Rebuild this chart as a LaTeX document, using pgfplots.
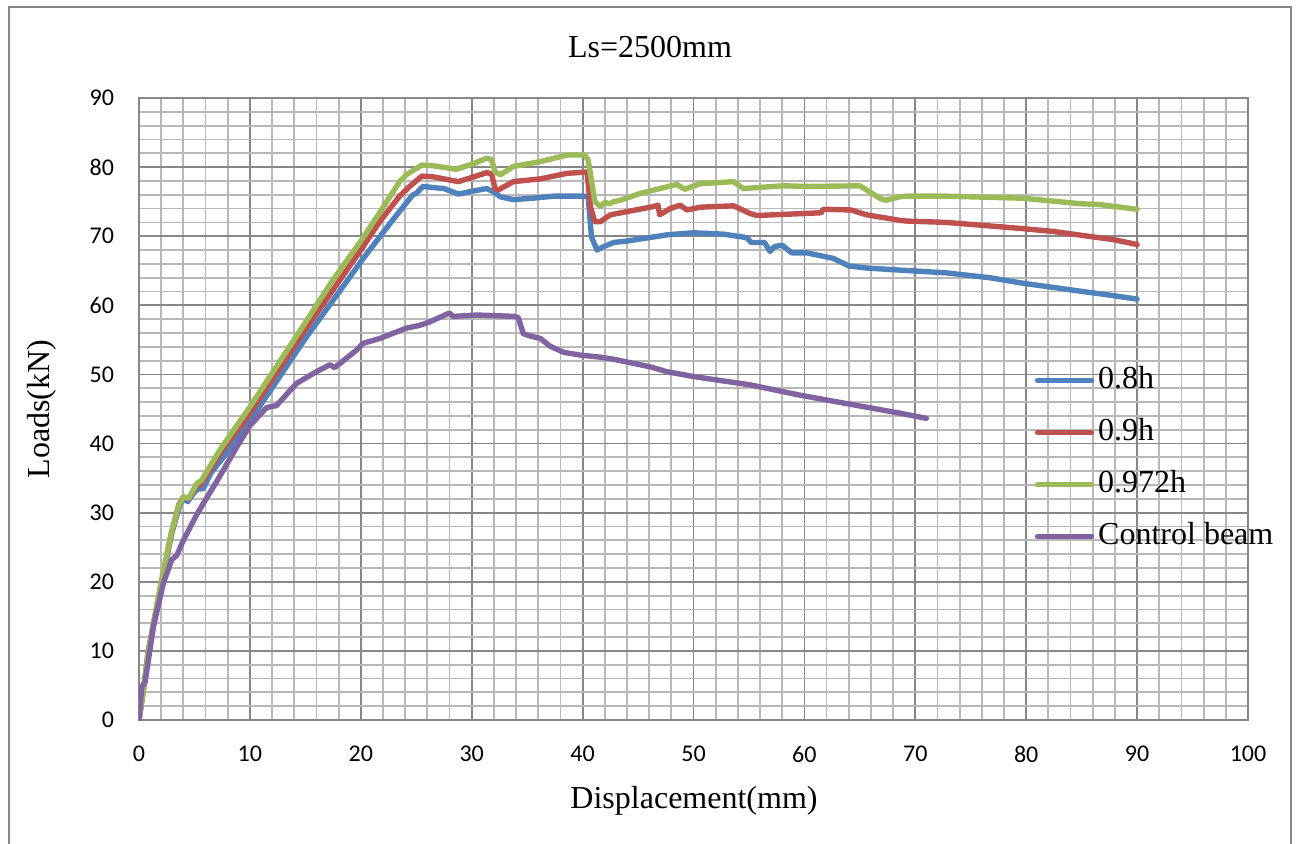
\documentclass[border=0pt]{standalone}
\usepackage{fontspec}
\setmainfont{Liberation Serif}
\newfontfamily\tickfont{Carlito}
\usepackage{pgfplots}
\pgfplotsset{compat=1.18}

\definecolor{cBlue}{HTML}{4F81BD}
\definecolor{cRed}{HTML}{C0504D}
\definecolor{cGreen}{HTML}{9BBB59}
\definecolor{cPurple}{HTML}{8064A2}
\definecolor{gridMajor}{HTML}{878787}
\definecolor{gridMinor}{HTML}{B8B8B8}

\begin{document}
\begin{tikzpicture}
\useasboundingbox (-69.5pt,-61.5pt) rectangle (580.5pt,360pt);
\draw[gridMajor, line width=0.8pt] (-65pt,-70pt) rectangle (576pt,356.5pt);
\begin{axis}[
  at={(0,0)}, anchor=origin,
  scale only axis,
  width=554.5pt, height=311pt,
  xmin=0, xmax=100, ymin=0, ymax=90,
  xtick={0,10,...,100}, ytick={0,10,...,90},
  minor x tick num=4, minor y tick num=4,
  grid=both,
  major grid style={gridMajor, line width=0.9pt},
  minor grid style={gridMinor, line width=0.9pt},
  axis line style={gridMajor, line width=0.9pt},
  major tick length=0pt, minor tick length=0pt,
  tick label style={font=\tickfont\fontsize{12}{14}\selectfont},
  /pgf/number format/assume math mode=true,
  xticklabel style={yshift=-9.5pt},
  yticklabel style={xshift=-9pt},
  every axis plot/.append style={line width=2.7pt, line join=round, line cap=round},
  legend image code/.code={\draw[#1] (0pt,0pt) -- (27pt,0pt);},
  legend style={draw=none, fill=none, at={(rel axis cs:0.802,0.582)}, anchor=north west,
    font=\fontsize{16}{19}\selectfont, row sep=8pt,
    nodes={text height=11pt, text depth=3pt, inner sep=2pt}},
  legend cell align=left,
]
\addplot[cBlue] coordinates {
(0,0)(0.5,5.5)(0.85,10)(2.05,20)(2.95,27)(3.7,31.2)(4.0,32.0)(4.4,31.6)(5.0,33.0)(5.3,33.4)(5.8,33.5)(6.5,35.8)(7.9,38.6)(10,43.3)
(15,55.2)(19.6,65.4)(19.9,66.1)(21.7,69.9)(23,72.6)(24.7,76.0)(25.0,76.2)(25.6,77.2)(26.8,77.0)(27.5,76.9)(28.8,76.1)(30,76.5)
(31.35,76.9)(32.0,76.4)(32.6,75.7)(33.75,75.3)(34.6,75.4)(35.5,75.5)(37.4,75.8)(40.1,75.8)(40.5,75.7)(40.8,69.9)(41.3,68.0)
(41.9,68.5)(42.8,69.1)(44.0,69.3)(47.6,70.2)(50.0,70.5)(52.7,70.3)(54.8,69.8)(55.2,69.1)(56.4,69.1)(56.9,67.8)(57.3,68.5)
(58.0,68.7)(58.85,67.6)(60.2,67.6)(62.6,66.8)(64.0,65.7)(65.6,65.4)(68.6,65.1)(72.8,64.7)(76.7,64.0)(79.7,63.2)(82.4,62.6)
(85.1,62.0)(87,61.6)(90,60.9)
};
\addlegendentry{0.8h}
\addplot[cRed] coordinates {
(0,0)(0.5,5.5)(0.85,10)(2.05,20)(2.92,27)(3.6,31.2)(4.0,32.2)(4.45,32.0)(5.2,33.8)(5.6,34.2)(7.5,39.0)(10,44.4)
(15,56.5)(20,68.0)(21.7,72.1)(23.5,75.8)(24.4,77.2)(25.5,78.7)(26.5,78.6)(28.8,77.9)(30,78.5)(31.35,79.2)(31.8,79.0)
(32.1,76.9)(32.4,76.7)(33.75,77.9)(36.2,78.3)(38.6,79.1)(40.4,79.3)(40.7,74.3)(41.1,72.1)(41.6,72.1)(42.5,73.1)(46.4,74.3)
(46.8,74.5)(46.95,73.1)(47.9,74.0)(48.8,74.5)(49.4,73.8)(50.6,74.2)(53.6,74.4)(55.1,73.3)(55.7,73.0)(60.2,73.3)(61.5,73.4)
(61.7,73.9)(64.2,73.8)(65.6,73.1)(68.6,72.3)(69.2,72.2)(72.8,72.0)(79.7,71.1)(82.4,70.7)(87.9,69.5)(90,68.8)
};
\addlegendentry{0.9h}
\addplot[cGreen] coordinates {
(0,0)(0.45,5)(0.84,10)(2.0,20)(2.9,27)(3.55,30.9)(4.0,32.3)(4.5,32.1)(5.2,34.2)(5.65,34.7)(7.3,39.1)(10,45.3)
(15,57.5)(17.2,63.0)(20,69.3)(21.7,73.4)(23.5,77.9)(24.1,78.9)(25.5,80.3)(26.5,80.2)(28.6,79.7)(30,80.4)(31.35,81.3)
(31.8,81.1)(32.1,79.3)(32.6,78.9)(33.75,80.1)(36.2,80.8)(38.6,81.75)(40.2,81.75)(40.5,81.0)(40.7,79.1)(41.1,75.0)(41.6,74.3)
(42.0,74.9)(42.4,74.7)(42.8,75.0)(43.4,75.2)(45.2,76.2)(48.5,77.5)(49.2,76.8)(50.6,77.6)(53.6,77.9)(54.5,76.9)(58.1,77.3)
(60.4,77.2)(65.0,77.3)(66.8,75.5)(67.3,75.2)(68.6,75.7)(69.2,75.8)(72.8,75.8)(79.7,75.5)(84.9,74.7)(86.5,74.6)(90,73.9)
};
\addlegendentry{0.972h}
\addplot[cPurple] coordinates {
(0,0)(0.25,4.8)(0.55,5.5)(1.3,13.5)(2.2,19.8)(2.95,23.2)(3.4,23.8)(4.0,26.0)(5.2,29.7)(5.9,31.6)(7.0,34.5)(9.0,40.0)(10,42.6)
(11.5,45.2)(12.4,45.5)(14.2,48.7)(16,50.4)(17.2,51.4)(17.65,51.0)(19.6,53.5)(20.2,54.5)(21.7,55.2)(24.1,56.7)(25.3,57.1)
(26.2,57.6)(28,58.9)(28.3,58.4)(30.5,58.6)(33.9,58.4)(34.2,58.2)(34.65,55.9)(35.2,55.6)(36.2,55.2)(37.05,54.1)(38.3,53.2)
(39.8,52.8)(41.6,52.5)(42.8,52.2)(46.1,51.1)(47.6,50.4)(50,49.7)(52.1,49.2)(55.1,48.5)(59.6,47.0)(68.6,44.4)(71,43.65)
};
\addlegendentry{Control beam}
\end{axis}
\node[font=\fontsize{16}{19}\selectfont] at (255.5pt,336.5pt) {Ls=2500mm};
\node[font=\fontsize{16}{19}\selectfont, anchor=base] at (277.5pt,-44pt) {Displacement(mm)};
\node[font=\fontsize{16}{19}\selectfont, rotate=90, anchor=base] at (-44.5pt,155.5pt) {Loads(kN)};
\end{tikzpicture}
\end{document}
